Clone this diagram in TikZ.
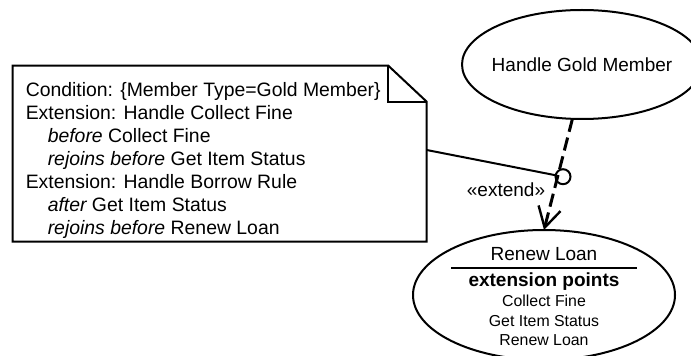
\documentclass[tikz,border=0pt]{standalone}
\usepackage{fontspec}
\setmainfont{Liberation Sans}
\usetikzlibrary{shapes.geometric,arrows.meta}

\begin{document}
\begin{tikzpicture}[x=0.75pt,y=-0.75pt,
  usecase/.style={draw,ellipse,line width=1.5pt,inner sep=0pt,outer sep=0pt},
  notetext/.style={anchor=base west,inner sep=0pt,font=\fontsize{14.55}{17}\selectfont},
  bigtext/.style={anchor=base,inner sep=0pt,font=\fontsize{14.25}{17}\selectfont},
  smalltext/.style={anchor=base,inner sep=0pt,font=\fontsize{11.9}{14}\selectfont},
  extendline/.style={line width=2.25pt,dash pattern=on 10pt off 4.5pt,
    -{Straight Barb[length=15pt,width=17pt,line width=1.8pt]}},
  thinline/.style={line width=1.5pt}]

\useasboundingbox (0,0) rectangle (691,356);
\begin{scope}
\clip (0,0) rectangle (691,356);

% use cases
\node[usecase,minimum width=180pt,minimum height=81.75pt] (hg) at (582,64.5) {};
\node[bigtext] (hgtext) at (582,71.5) {Handle Gold Member};

\node[usecase,minimum width=196.5pt,minimum height=97.5pt] (rl) at (544,295) {};
\node[bigtext] (rltitle) at (544,260) {Renew Loan};
\coordinate (sepl) at (451,268.3);
\coordinate (sepr) at (637,268.3);
\draw[thinline] (sepl) -- (sepr);
\node[bigtext,font=\fontsize{14.25}{17}\selectfont\bfseries] (ep) at (544,286.7) {extension points};
\node[smalltext] (ep1) at (544,306.7) {Collect Fine};
\node[smalltext] (ep2) at (544,326.7) {Get Item Status};
\node[smalltext] (ep3) at (544,345.7) {Renew Loan};
\end{scope}

% note with folded corner
\coordinate (nw) at (12.5,65.7);
\coordinate (fold) at (388.3,65.7);
\coordinate (foldin) at (388.3,101.7);
\coordinate (ne) at (426.7,101.7);
\coordinate (se) at (426.7,241.7);
\coordinate (sw) at (12.5,241.7);
\draw[thinline,line join=miter] (nw) -- (fold) -- (ne) -- (se) -- (sw) -- cycle;
\draw[thinline] (fold) -- (foldin) -- (ne);

\node[notetext] (n1) at (25.5,96.5) {Condition: \{Member Type=Gold Member\}};
\node[notetext] (n2) at (25.5,119.5) {Extension: Handle Collect Fine};
\node[notetext] (n3) at (47.5,142.6) {\itshape before\upshape{} Collect Fine};
\node[notetext] (n4) at (47.5,165.6) {\itshape rejoins before\upshape{} Get Item Status};
\node[notetext] (n5) at (25.5,188.7) {Extension: Handle Borrow Rule};
\node[notetext] (n6) at (47.5,211.7) {\itshape after\upshape{} Get Item Status};
\node[notetext] (n7) at (47.5,234.8) {\itshape rejoins before\upshape{} Renew Loan};

% extend relationship with its condition hook
\draw[extendline] (hg.260.8) -- (rl.north);
\node[draw,circle,line width=1.5pt,minimum size=11.25pt,inner sep=0pt,outer sep=0pt] (hook) at (563,176.7) {};
\coordinate (noteport) at (426.7,150);
\draw[thinline] (noteport) -- (hook);
\node[bigtext] (ext) at (506,196.5) {«extend»};

\end{tikzpicture}
\end{document}
